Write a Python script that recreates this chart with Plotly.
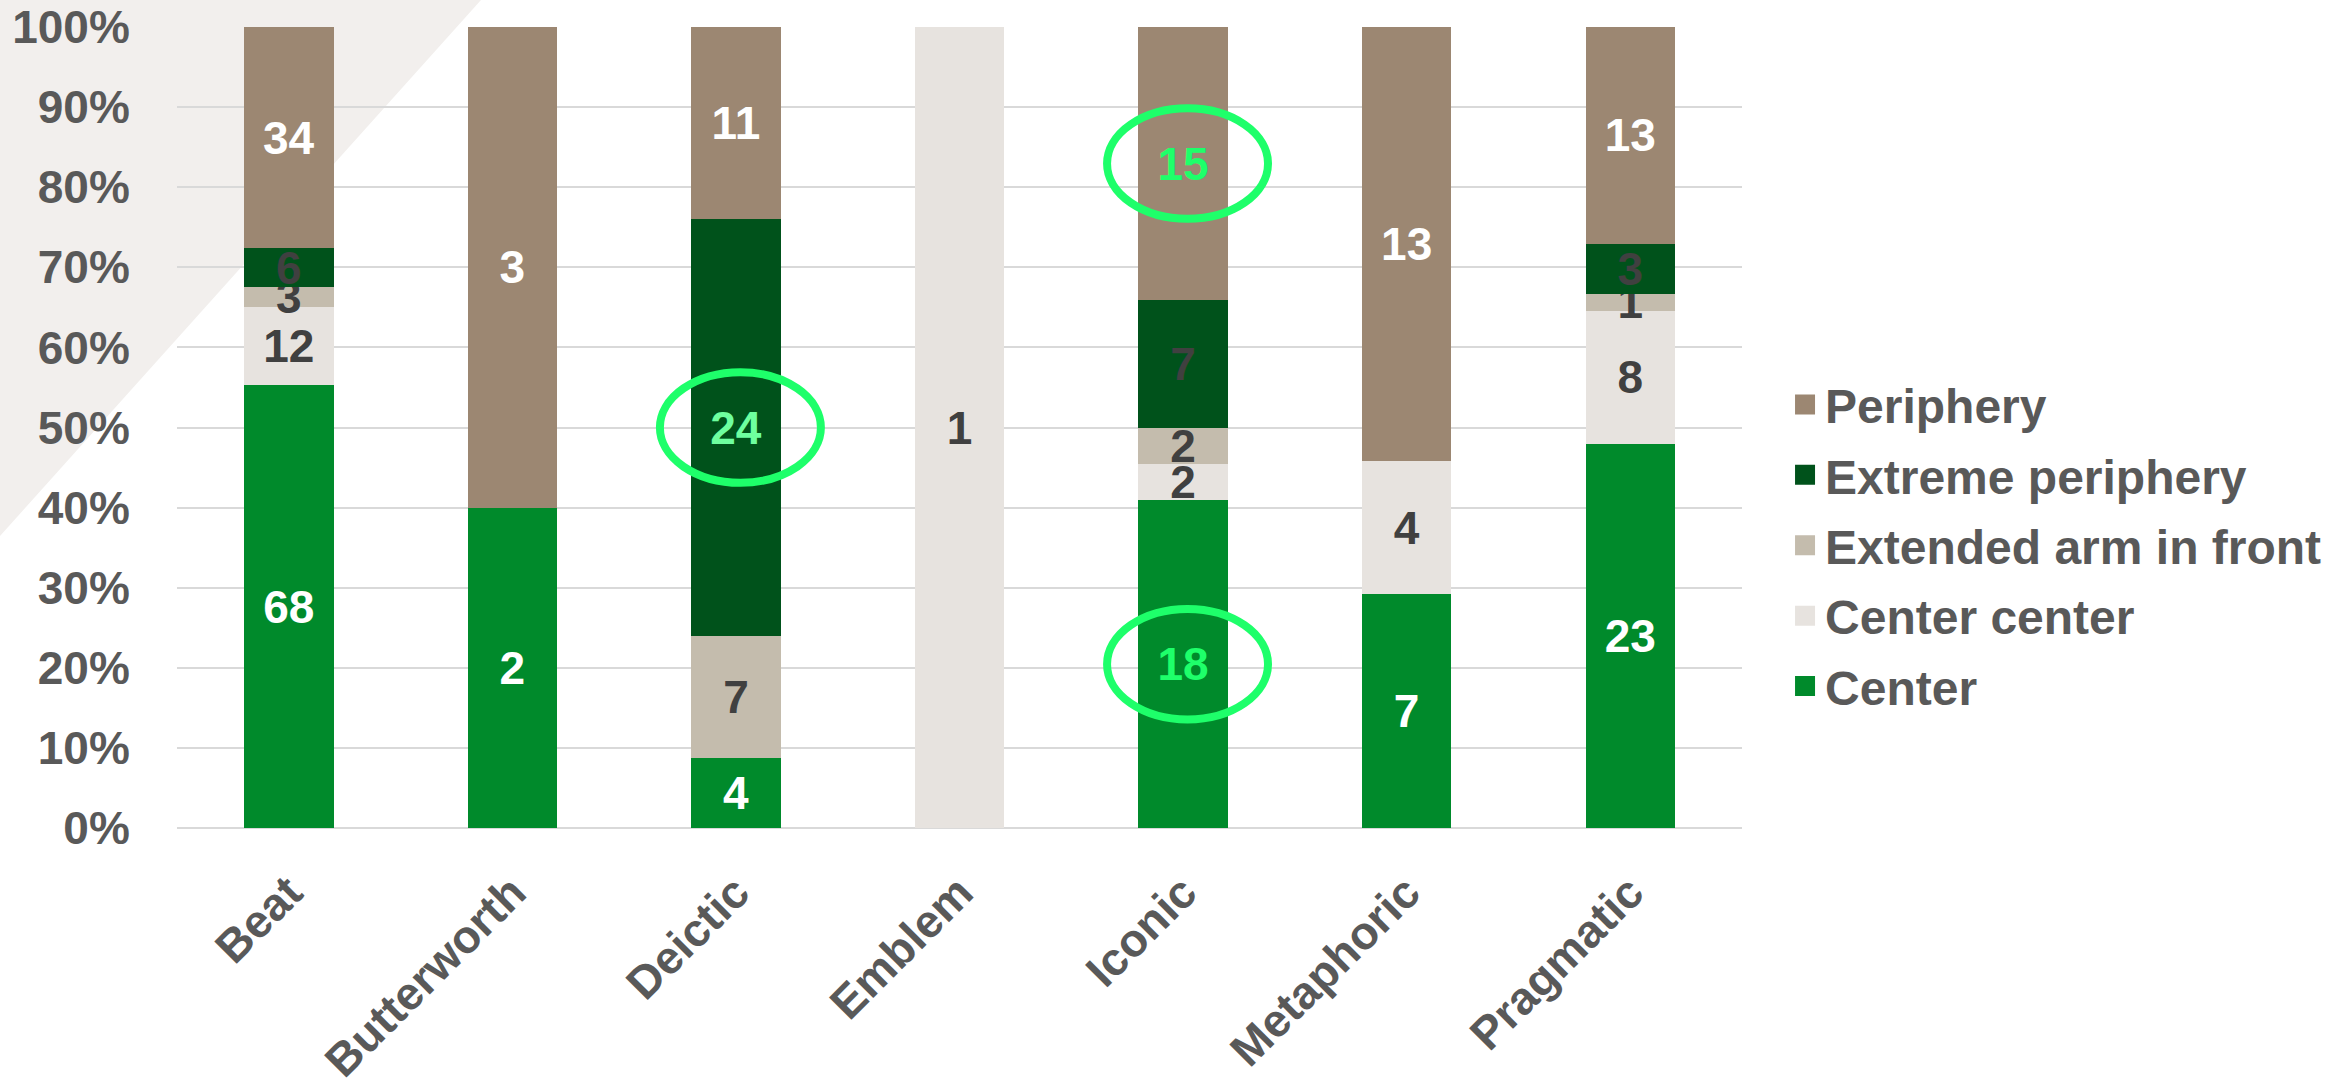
import plotly.graph_objects as go

categories = ["Beat", "Butterworth", "Deictic", "Emblem", "Iconic", "Metaphoric", "Pragmatic"]

# counts per series (bottom to top in the stack)
center = [68, 2, 4, 0, 18, 7, 23]
center_center = [12, 0, 0, 1, 2, 4, 8]
extended_arm = [3, 0, 7, 0, 2, 0, 1]
extreme_periphery = [6, 0, 24, 0, 7, 0, 3]
periphery = [34, 3, 11, 0, 15, 13, 13]

series_names = ["Center", "Center center", "Extended arm in front", "Extreme periphery", "Periphery"]
series_values = [center, center_center, extended_arm, extreme_periphery, periphery]
series_colors = ["#008A2B", "#E7E3DF", "#C4BCAD", "#00521B", "#9C8772"]
label_colors = ["#FFFFFF", "#404040", "#404040", "#404040", "#FFFFFF"]

# highlighted labels (category, series, label colour)
highlights = [("Deictic", "Extreme periphery", "#6EFF9F"),
              ("Iconic", "Periphery", "#1EFF6A"),
              ("Iconic", "Center", "#1EFF6A")]

FONT = "Liberation Sans, Arial, sans-serif"
GREY = "#595959"

totals = [sum(s[i] for s in series_values) for i in range(len(categories))]

fig = go.Figure()
for name, vals, col, lcol in zip(series_names, series_values, series_colors, label_colors):
    tcolors = []
    for cat in categories:
        c = lcol
        for hc, hs, hcol in highlights:
            if hc == cat and hs == name:
                c = hcol
        tcolors.append(c)
    fig.add_trace(go.Bar(
        x=categories, y=vals, name=name, showlegend=False,
        marker=dict(color=col, line=dict(width=0)),
        text=[str(v) if v else "" for v in vals],
        textposition="inside", insidetextanchor="middle", textangle=0,
        textfont=dict(family=FONT, size=46, color=tcolors, weight="bold"),
        hoverinfo="skip",
    ))

# legend entries with larger square swatches (top of stack listed first)
for name, col in reversed(list(zip(series_names, series_colors))):
    fig.add_trace(go.Scatter(
        x=[None], y=[None], mode="markers", name=name, legendgroup=name,
        marker=dict(symbol="square", size=16, color=col, line=dict(color=col, width=4)),
        hoverinfo="skip",
    ))

# ellipses around highlighted labels, centred on the segment middle (percent)
for hc, hs, _ in highlights:
    i = categories.index(hc)
    k = series_names.index(hs)
    below = sum(series_values[j][i] for j in range(k))
    mid = (below + series_values[k][i] / 2) / totals[i] * 100
    fig.add_shape(type="circle", xref="x", yref="y",
                  x0=i - 0.34, x1=i + 0.38, y0=mid - 6.9, y1=mid + 6.9,
                  line=dict(color="#1EFF6A", width=8), layer="above")

# decorative background triangle (top-left)
L, R, T, B = 177, 1742, 27, 828
W, H = R - L, B - T
def px(x): return (x - L) / W
def py(y): return (B - y) / H
fig.add_shape(type="path", xref="paper", yref="paper",
              path=f"M {px(0)} {py(0)} L {px(481)} {py(0)} L {px(0)} {py(536)} Z",
              fillcolor="#F2EFED", line=dict(width=0), layer="below")

fig.update_layout(
    barmode="stack", barnorm="percent", bargap=0.6,
    width=2349, height=1080,
    margin=dict(l=L, r=2349 - R, t=T, b=1080 - B, autoexpand=False),
    paper_bgcolor="white", plot_bgcolor="rgba(0,0,0,0)",
    uniformtext=dict(minsize=46, mode="show"),
    font=dict(family=FONT, color=GREY),
    legend=dict(x=1.0275, xanchor="left", y=0.353, yanchor="middle",
                traceorder="grouped",
                font=dict(family=FONT, size=48, color=GREY, weight="bold"),
                itemwidth=30, tracegroupgap=5),
    xaxis=dict(tickangle=-45, tickfont=dict(family=FONT, size=46, color=GREY, weight="bold"),
               ticks="outside", ticklen=18, tickcolor="rgba(0,0,0,0)",
               showgrid=False, showline=False),
    yaxis=dict(range=[0, 100], dtick=10, ticksuffix="%",
               tickfont=dict(family=FONT, size=46, color=GREY, weight="bold"),
               showgrid=True, gridcolor="#D9D9D9", gridwidth=2,
               zeroline=True, zerolinecolor="#D9D9D9", zerolinewidth=2,
               ticks="outside", ticklen=37, tickcolor="rgba(0,0,0,0)", showline=False),
)

fig.write_html("out.html")
